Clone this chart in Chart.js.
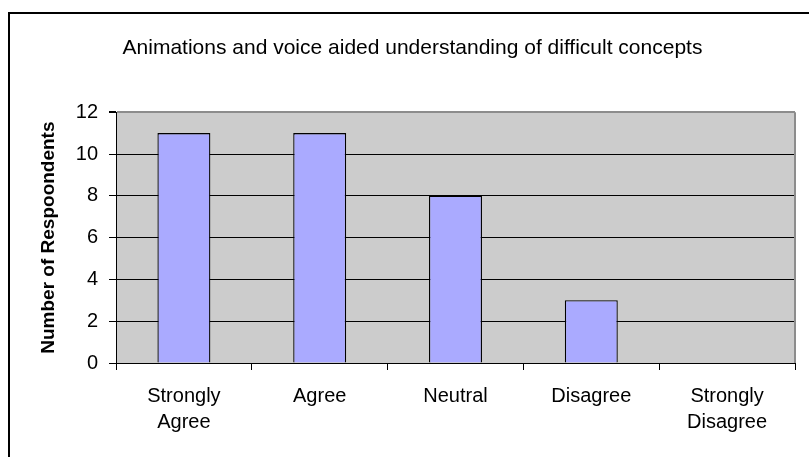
<!DOCTYPE html>
<html>
<head>
<meta charset="utf-8">
<script src="https://cdn.jsdelivr.net/npm/chart.js@4"></script>
<style>
  html, body { margin: 0; padding: 0; background: #fff; }
  #wrap { width: 809px; height: 457px; }
</style>
</head>
<body>
<div id="wrap"><canvas id="c" width="809" height="457"></canvas></div>
<script>
const chartTitle = 'Animations and voice aided understanding of difficult concepts';
const yAxisTitle = 'Number of Respoondents';
const categories = [['Strongly', 'Agree'], 'Agree', 'Neutral', 'Disagree', ['Strongly', 'Disagree']];
const respondents = [11, 11, 8, 3, 0];
const yMin = 0, yMax = 12, yStep = 2;

const FONT = '"Liberation Sans", Arial, sans-serif';

const framePlugin = {
  id: 'frame',
  beforeDraw(chart) {
    const ctx = chart.ctx;
    const a = chart.chartArea;
    ctx.save();
    ctx.fillStyle = '#ffffff';
    ctx.fillRect(0, 0, chart.width, chart.height);
    ctx.strokeStyle = '#000000';
    ctx.lineWidth = 2;
    ctx.strokeRect(9, 13, 900, 500);
    ctx.fillStyle = '#cccccc';
    ctx.fillRect(a.left, a.top, a.right - a.left, a.bottom - a.top);
    ctx.restore();
  },
  afterDatasetsDraw(chart) {
    const ctx = chart.ctx;
    const a = chart.chartArea;
    ctx.save();
    ctx.strokeStyle = '#8c8c8c';
    ctx.lineWidth = 2;
    ctx.beginPath();
    ctx.moveTo(a.right, a.top);
    ctx.lineTo(a.right, a.bottom);
    ctx.stroke();
    ctx.restore();
  }
};

new Chart(document.getElementById('c'), {
  type: 'bar',
  data: {
    labels: categories,
    datasets: [{
      data: respondents,
      backgroundColor: '#aaaaff',
      borderColor: '#000000',
      borderWidth: 1.3,
      barPercentage: 0.39,
      categoryPercentage: 1.0
    }]
  },
  options: {
    responsive: false,
    animation: false,
    devicePixelRatio: 1,
    layout: { padding: { left: 30, right: 14, top: 0, bottom: 0 } },
    plugins: {
      legend: { display: false },
      tooltip: { enabled: false },
      title: {
        display: true,
        text: chartTitle,
        color: '#000',
        font: { family: FONT, size: 21, weight: 'normal' },
        padding: { top: 36, bottom: 51 }
      }
    },
    scales: {
      x: {
        offset: true,
        grid: {
          offset: true,
          drawOnChartArea: false,
          drawTicks: true,
          tickLength: 7,
          tickColor: '#000',
          color: '#000'
        },
        border: { display: true, color: '#000', width: 1 },
        ticks: {
          color: '#000',
          font: { family: FONT, size: 20, lineHeight: 1.33 },
          padding: 13,
          maxRotation: 0,
          autoSkip: false
        },
        afterFit(scale) { scale.height = 94; }
      },
      y: {
        min: yMin,
        max: yMax,
        ticks: {
          stepSize: yStep,
          color: '#000',
          font: { family: FONT, size: 20 },
          padding: 11
        },
        grid: {
          drawTicks: true,
          tickLength: 7,
          tickColor: '#000',
          color: (ctx) => (ctx.tick && ctx.tick.value === yMax) ? '#8c8c8c' : '#000',
          lineWidth: (ctx) => (ctx.tick && ctx.tick.value === yMax) ? 2 : 1
        },
        border: { display: true, color: '#000', width: 1 },
        title: {
          display: true,
          text: yAxisTitle,
          color: '#000',
          font: { family: FONT, size: 19, weight: 'bold' },
          padding: { top: 7, bottom: 0 }
        },
        afterFit(scale) { scale.width = 86; }
      }
    }
  },
  plugins: [framePlugin]
});
</script>
</body>
</html>
